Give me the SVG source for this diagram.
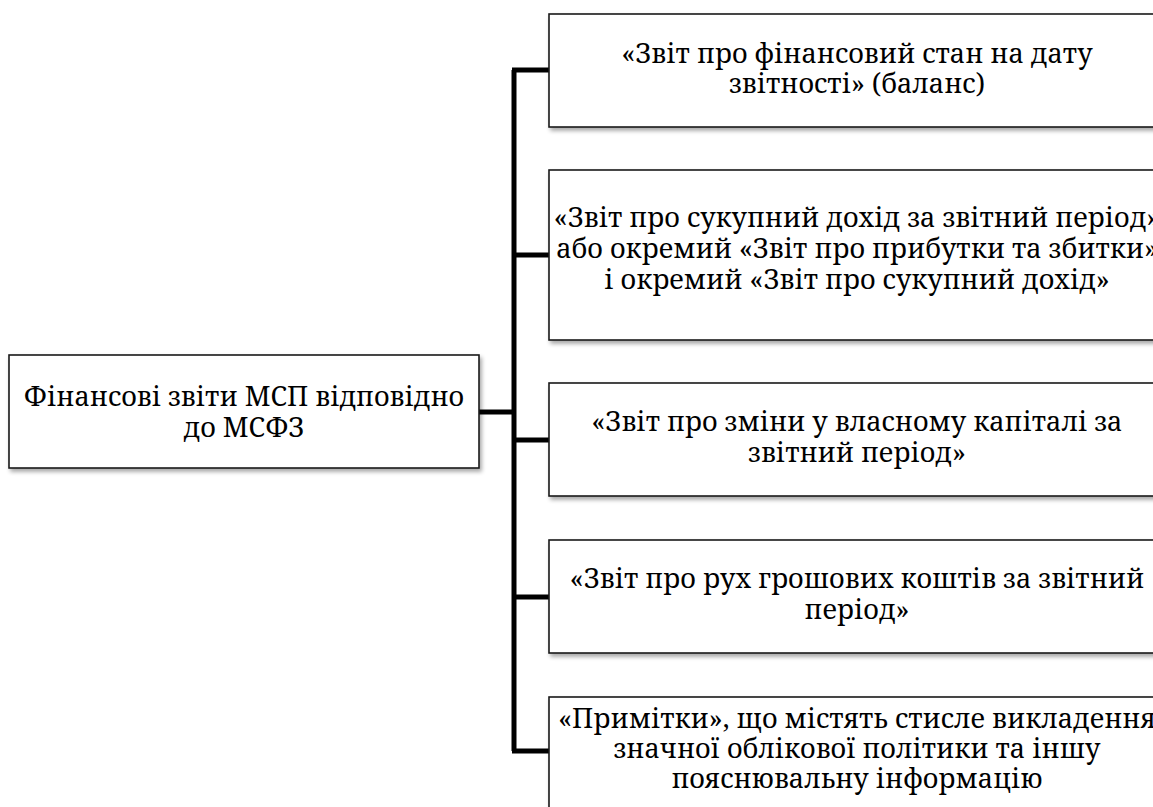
<svg xmlns="http://www.w3.org/2000/svg" width="1153" height="807" viewBox="0 0 1153 807">
<defs>
<filter id="sh" x="-5%" y="-5%" width="115%" height="120%">
<feGaussianBlur in="SourceAlpha" stdDeviation="2"/>
<feOffset dx="2" dy="3" result="b"/>
<feComponentTransfer><feFuncA type="linear" slope="0.35"/></feComponentTransfer>
<feMerge><feMergeNode/><feMergeNode in="SourceGraphic"/></feMerge>
</filter>
</defs>
<style>
.box{fill:#fff;stroke:#1a1a1a;stroke-width:1.6;filter:url(#sh)}
.t{font-family:'Noto Serif','DejaVu Serif',serif;font-size:27px;fill:#000;text-anchor:middle}
.c{stroke:#000;stroke-width:5;fill:none}
</style>
<rect width="1153" height="807" fill="#fff"/>
<g id="connectors">
<path class="c" d="M479 412 H514"/>
<path class="c" d="M514 70 V751"/>
<path class="c" d="M512 70 H549"/>
<path class="c" d="M514 255 H549"/>
<path class="c" d="M514 440 H549"/>
<path class="c" d="M514 597 H549"/>
<path class="c" d="M512 751 H549"/>
</g>
<g id="root">
<rect class="box" x="9" y="355" width="470" height="113"/>
<text class="t" x="244" y="406">Фінансові звіти МСП відповідно</text>
<text class="t" x="244" y="437">до МСФЗ</text>
</g>
<g id="n1">
<rect class="box" x="549" y="14" width="616" height="113"/>
<text class="t" x="857" y="63">«Звіт про фінансовий стан на дату</text>
<text class="t" x="857" y="93">звітності» (баланс)</text>
</g>
<g id="n2">
<rect class="box" x="549" y="170" width="616" height="170"/>
<text class="t" x="857" y="227">«Звіт про сукупний дохід за звітний період»</text>
<text class="t" x="857" y="258">або окремий «Звіт про прибутки та збитки»</text>
<text class="t" x="857" y="289">і окремий «Звіт про сукупний дохід»</text>
</g>
<g id="n3">
<rect class="box" x="549" y="383" width="616" height="113"/>
<text class="t" x="857" y="431">«Звіт про зміни у власному капіталі за</text>
<text class="t" x="857" y="462">звітний період»</text>
</g>
<g id="n4">
<rect class="box" x="549" y="540" width="616" height="113"/>
<text class="t" x="857" y="588">«Звіт про рух грошових коштів за звітний</text>
<text class="t" x="857" y="619">період»</text>
</g>
<g id="n5">
<rect class="box" x="549" y="697" width="616" height="120"/>
<text class="t" x="857" y="728">«Примітки», що містять стисле викладення</text>
<text class="t" x="857" y="758">значної облікової політики та іншу</text>
<text class="t" x="857" y="788">пояснювальну інформацію</text>
</g>
</svg>
